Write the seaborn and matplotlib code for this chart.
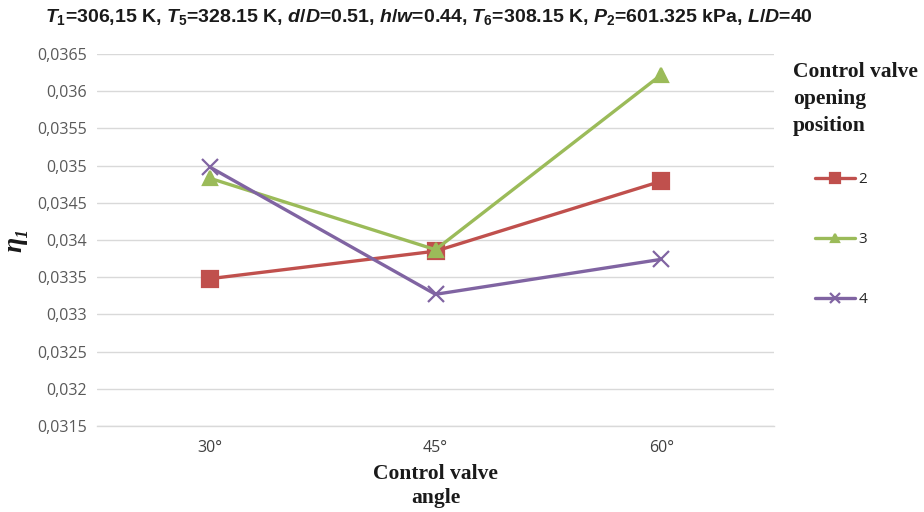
import matplotlib
matplotlib.use("Agg")
import matplotlib.pyplot as plt
import seaborn as sns
import pandas as pd
from matplotlib.ticker import FuncFormatter, FixedLocator

angles = ["30°", "45°", "60°"]
positions = ["2", "3", "4"]
eta_pos2 = [0.03348, 0.03385, 0.03479]
eta_pos3 = [0.03483, 0.03387, 0.03622]
eta_pos4 = [0.03498, 0.03327, 0.03374]
y_ticks = [0.0315, 0.032, 0.0325, 0.033, 0.0335, 0.034, 0.0345, 0.035, 0.0355, 0.036, 0.0365]

colors = {"2": "#C0504D", "3": "#9BBB59", "4": "#8064A2"}
markers = {"2": "s", "3": "^", "4": "x"}
msizes = {"2": 11, "3": 10, "4": 11}

sns.set_style("white")
plt.rcParams["mathtext.fontset"] = "custom"
plt.rcParams["mathtext.it"] = "Liberation Sans:italic:bold"
plt.rcParams["mathtext.rm"] = "Liberation Sans:bold"
plt.rcParams["mathtext.bf"] = "Liberation Sans:bold"

fig = plt.figure(figsize=(9.24, 5.12), dpi=100)
ax = fig.add_axes([97/924, 1-426/512, (774-97)/924, (426-54)/512])

for p, vals in zip(positions, [eta_pos2, eta_pos3, eta_pos4]):
    d = pd.DataFrame({"angle": angles, "eta": vals})
    sns.lineplot(data=d, x="angle", y="eta", color=colors[p], marker=markers[p],
                 markersize=msizes[p], markeredgewidth=1.6, markeredgecolor=colors[p],
                 markerfacecolor=colors[p], linewidth=2.4, ax=ax, sort=False, label=p)

handles, labels = ax.get_legend_handles_labels()
if ax.get_legend() is not None:
    ax.get_legend().remove()

ax.set_xlim(-0.5, 2.5)
ax.set_ylim(0.0315, 0.0365)
ax.set_yticks(y_ticks)
ax.yaxis.set_major_formatter(FuncFormatter(lambda v, _: f"{v:.4f}".rstrip("0").replace(".", ",")))
ax.grid(axis="y", color="#D9D9D9", linewidth=1)
ax.grid(axis="x", visible=False)
for s in ["top", "right", "left"]:
    ax.spines[s].set_visible(False)
ax.spines["bottom"].set_color("#D9D9D9")
ax.spines["bottom"].set_linewidth(1)
ax.tick_params(axis="y", length=5, color="#D9D9D9", labelsize=11.5, labelcolor="#595959", pad=2)
ax.tick_params(axis="x", length=0, labelsize=11.5, labelcolor="#404040", pad=10)
ax.xaxis.set_minor_locator(FixedLocator([-0.5, 0.5, 1.5, 2.5]))
ax.tick_params(axis="x", which="minor", length=5, color="#D9D9D9", direction="out")
for lab in ax.get_yticklabels() + ax.get_xticklabels():
    lab.set_family("Open Sans")

ax.set_xlabel("Control valve\nangle", family="Liberation Serif", fontweight="bold",
              fontsize=15.5, color="#1a1a1a", labelpad=6, linespacing=1.25)
ax.set_ylabel("η₁", family="Liberation Serif", fontstyle="italic", fontweight="bold",
              fontsize=20, color="#1a1a1a")
ax.yaxis.set_label_coords(-70/677, 0.5)

leg = fig.legend(handles, labels, loc="upper left", bbox_to_anchor=(809/924, 1-166/512),
                 frameon=False, borderaxespad=0, borderpad=0.4,
                 labelspacing=2.95, handlelength=2.6, handletextpad=0.25,
                 fontsize=11, markerscale=0.6)
for t in leg.get_texts():
    t.set_family("Open Sans")
    t.set_color("#262626")

fig.text(793/924, 1-62/512, "Control valve\nopening\nposition", ha="left", va="top",
         family="Liberation Serif", fontweight="bold", fontsize=15.5, linespacing=1.45,
         color="#1a1a1a")

fig.text(429/924, 1-17/512,
         r"$T_1$=306,15 K, $T_5$=328.15 K, $d$/$D$=0.51, $h$/$w$=0.44, $T_6$=308.15 K, $P_2$=601.325 kPa, $L$/$D$=40",
         ha="center", va="center", fontsize=14, fontweight="bold", family="Liberation Sans",
         color="#1a1a1a")

fig.savefig("out.png", dpi=100)
